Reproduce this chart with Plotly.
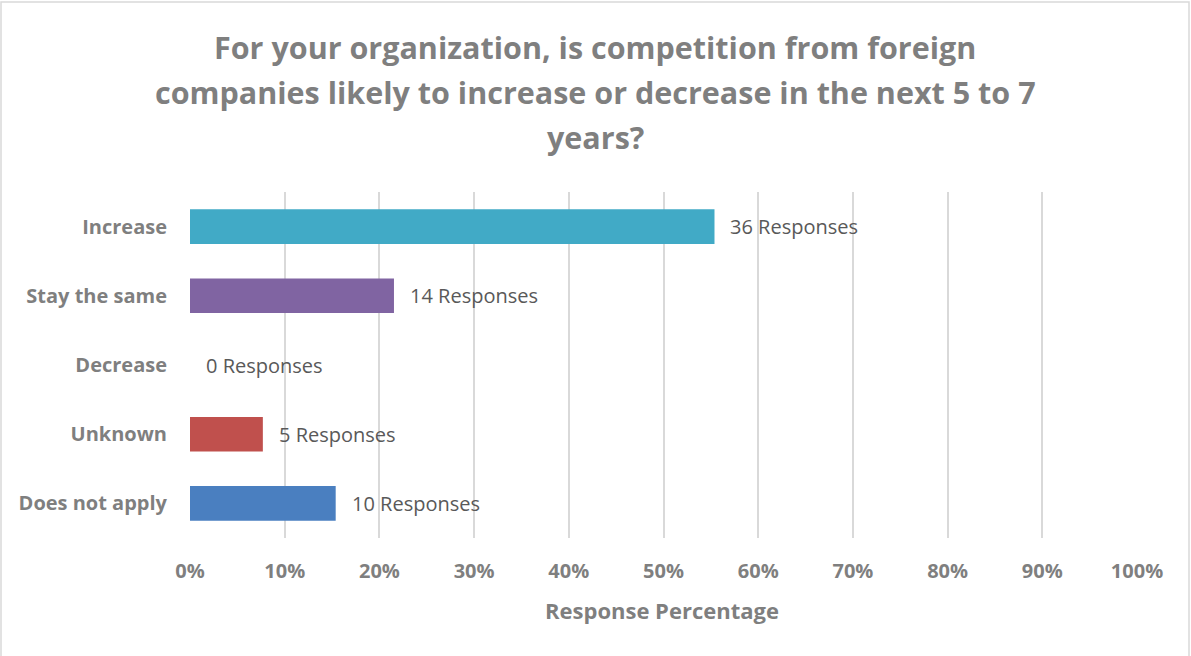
import plotly.graph_objects as go

# Survey answers and the number of respondents for each
categories = ["Increase", "Stay the same", "Decrease", "Unknown", "Does not apply"]
responses = [36, 14, 0, 5, 10]
bar_colors = ["#41AAC6", "#8064A2", "#C0504D", "#C0504D", "#4A7FC0"]
tick_values = [0, 0.1, 0.2, 0.3, 0.4, 0.5, 0.6, 0.7, 0.8, 0.9, 1.0]
tick_labels = ["0%", "10%", "20%", "30%", "40%", "50%", "60%", "70%", "80%", "90%", "100%"]
title_lines = [
    "For your organization, is competition from foreign",
    "companies likely to increase or decrease in the next 5 to 7",
    "years?",
]

total = sum(responses)
shares = [r / total for r in responses]

W, H = 1191, 656
L, R, T, B = 190, 54, 192, 118
plot_w = W - L - R
plot_h = H - T - B


def px_x(p):
    return (p - L) / plot_w


def px_y(p):
    return (H - B - p) / plot_h


FONT = "'Open Sans', sans-serif"
GRAY = "#7F7F7F"

fig = go.Figure(
    go.Bar(
        y=categories,
        x=shares,
        orientation="h",
        marker=dict(color=bar_colors, line=dict(width=0)),
        width=0.5,
        hoverinfo="skip",
    )
)

annotations = []
for cat, share, n in zip(categories, shares, responses):
    annotations.append(dict(
        x=share, y=cat, xref="x", yref="y",
        text=f"{n} Responses", showarrow=False,
        xanchor="left", yanchor="middle", xshift=14,
        font=dict(family=FONT, size=20, color="#595959"),
    ))

for i, line in enumerate(title_lines):
    annotations.append(dict(
        x=px_x(595), y=px_y(47 + 45 * i), xref="paper", yref="paper",
        text=f"<b>{line}</b>", showarrow=False,
        xanchor="center", yanchor="middle",
        font=dict(family=FONT, size=30.5, color=GRAY),
    ))

annotations.append(dict(
    x=px_x(662), y=px_y(610), xref="paper", yref="paper",
    text="<b>Response Percentage</b>", showarrow=False,
    xanchor="center", yanchor="middle",
    font=dict(family=FONT, size=22, color=GRAY),
))

fig.update_layout(
    width=W, height=H,
    margin=dict(l=L, r=R, t=T, b=B, pad=0),
    paper_bgcolor="white", plot_bgcolor="white",
    showlegend=False,
    annotations=annotations,
    shapes=[dict(
        type="rect", xref="paper", yref="paper",
        x0=px_x(1), x1=px_x(1189), y0=px_y(662), y1=px_y(2),
        line=dict(color="#D9D9D9", width=1.5), fillcolor="rgba(0,0,0,0)",
        layer="below",
    )],
    xaxis=dict(
        range=[0, 1], tickvals=tick_values, ticktext=tick_labels,
        showgrid=True, gridcolor="#D9D9D9", gridwidth=1.5,
        zeroline=False, showline=False, ticks="",
        ticklabelstandoff=19,
        tickfont=dict(family=FONT, size=20, color=GRAY, weight="bold"),
        fixedrange=True,
    ),
    yaxis=dict(
        categoryorder="array", categoryarray=categories[::-1],
        showgrid=False, zeroline=False, showline=False, ticks="",
        ticklabelstandoff=22,
        tickfont=dict(family=FONT, size=20, color=GRAY, weight="bold"),
        fixedrange=True,
    ),
)

fig.write_html("out.html")
